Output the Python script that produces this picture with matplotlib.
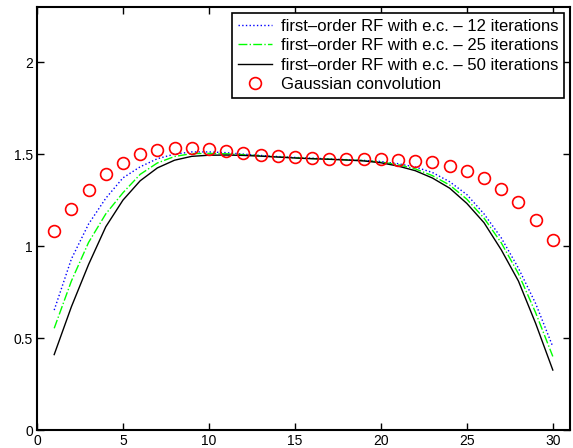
import numpy as np
import matplotlib
matplotlib.use("Agg")
import matplotlib.pyplot as plt

plt.rcParams['font.family'] = ['Liberation Sans', 'DejaVu Sans']

x = np.arange(1, 31)

# first-order RF with edge correction
rf12 = [0.652, 0.93, 1.12, 1.26, 1.371, 1.431, 1.475, 1.5, 1.512, 1.512,
        1.508, 1.5, 1.493, 1.487, 1.482, 1.478, 1.474, 1.47, 1.466, 1.46,
        1.448, 1.43, 1.40, 1.35, 1.28, 1.175, 1.045, 0.88, 0.688, 0.453]
rf25 = [0.553, 0.81, 1.02, 1.175, 1.29, 1.39, 1.452, 1.487, 1.503, 1.504,
        1.502, 1.497, 1.491, 1.485, 1.48, 1.476, 1.472, 1.469, 1.465, 1.457,
        1.443, 1.42, 1.383, 1.332, 1.255, 1.152, 1.018, 0.85, 0.638, 0.40]
rf50 = [0.41, 0.67, 0.90, 1.105, 1.25, 1.355, 1.425, 1.467, 1.488, 1.494,
        1.495, 1.493, 1.489, 1.484, 1.479, 1.475, 1.472, 1.468, 1.463, 1.453,
        1.435, 1.41, 1.37, 1.315, 1.232, 1.127, 0.98, 0.81, 0.58, 0.326]
gauss = [1.083, 1.202, 1.306, 1.391, 1.454, 1.498, 1.522, 1.536, 1.536, 1.528,
         1.518, 1.505, 1.496, 1.489, 1.483, 1.478, 1.476, 1.475, 1.474, 1.474,
         1.469, 1.463, 1.455, 1.438, 1.41, 1.369, 1.311, 1.237, 1.142, 1.034]

labels = ['first\u2013order RF with e.c. \u2013 12 iterations',
          'first\u2013order RF with e.c. \u2013 25 iterations',
          'first\u2013order RF with e.c. \u2013 50 iterations',
          'Gaussian convolution']

fig = plt.figure(figsize=(5.73, 4.48), dpi=100)
ax = fig.add_axes([37 / 573, 18 / 448, 533 / 573, 423 / 448])

ax.plot(x, rf12, ':', color=(0, 0, 1), lw=1.0, label=labels[0])
ax.plot(x, rf25, '-.', color=(0, 1, 0), lw=1.0, label=labels[1])
ax.plot(x, rf50, '-', color='black', lw=1.0, label=labels[2])
ax.plot(x, gauss, 'o', mfc='none', mec='red', mew=1.2, ms=8.5, label=labels[3])

ax.set_xlim(0, 31)
ax.set_ylim(0, 2.3)
ax.set_xticks([0, 5, 10, 15, 20, 25, 30])
ax.set_yticks([0, 0.5, 1, 1.5, 2])
ax.set_yticklabels(['0', '0.5', '1', '1.5', '2'])
ax.tick_params(direction='in', top=True, right=True, length=5, width=1,
               labelsize=10, pad=3)
for s in ax.spines.values():
    s.set_linewidth(1.5)

leg = ax.legend(loc='upper right', fontsize=12, fancybox=False,
                edgecolor='black', framealpha=1, borderaxespad=0.35,
                handlelength=2.0, handletextpad=0.55, labelspacing=0.27,
                borderpad=0.35)
leg.get_frame().set_linewidth(1.2)

fig.savefig('out.png', dpi=100)
